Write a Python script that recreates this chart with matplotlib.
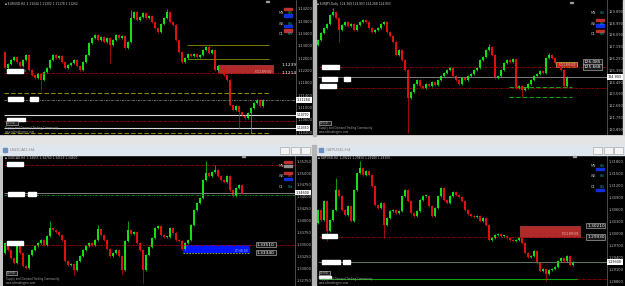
import numpy as np
import matplotlib.pyplot as plt
from matplotlib.patches import Rectangle
from matplotlib.transforms import blended_transform_factory

W, H = 625, 286

# ---------------- data ----------------
# EURUSD,H4 (top left)
tl_open0 = 1.1282
tl_close = [1.1230, 1.1243, 1.1256, 1.1265, 1.1249, 1.1236, 1.1256, 1.1272, 1.1223, 1.1207,
            1.1197, 1.1210, 1.1191, 1.1217, 1.1230, 1.1256, 1.1272, 1.1262, 1.1269, 1.1249,
            1.1230, 1.1240, 1.1246, 1.1256, 1.1236, 1.1223, 1.1249, 1.1272, 1.1311, 1.1327,
            1.1337, 1.1321, 1.1331, 1.1314, 1.1327, 1.1305, 1.1321, 1.1337, 1.1327, 1.1334,
            1.1295, 1.1314, 1.1392, 1.1412, 1.1386, 1.1396, 1.1409, 1.1392, 1.1399, 1.1379,
            1.1360, 1.1347, 1.1373, 1.1392, 1.1412, 1.1379, 1.1370, 1.1321, 1.1282, 1.1249,
            1.1262, 1.1275, 1.1269, 1.1275, 1.1265, 1.1272, 1.1288, 1.1298, 1.1279, 1.1288,
            1.1223, 1.1236, 1.1230, 1.1207, 1.1191, 1.1110, 1.1093, 1.1106, 1.1087, 1.1077,
            1.1067, 1.1083, 1.1100, 1.1116, 1.1126, 1.1106, 1.1126]
tl_wicks = {12: (None, 1.1158), 35: (None, 1.1246), 42: (1.1418, None), 54: (1.1421, None),
            78: (None, 1.1035), 82: (None, 1.1019)}
tl_ticks = [1.1420, 1.1380, 1.1340, 1.1300, 1.1260, 1.1220, 1.1180, 1.1140, 1.1100, 1.1060, 1.1020]
tl_zone = (1.1214, 1.1239)
tl_olive_solid = [1.1305, 1.1259]
tl_olive_dash = [1.1149, 1.1019]
tl_white = [1.1077, 1.1035]
tl_red = [1.1214, 1.1058]
tl_price = 1.1126

# EURJPY,Daily (top right)
tr_open0 = 127.358
tr_close = [127.740, 128.274, 128.655, 128.961, 129.647, 129.876, 129.418, 128.503, 128.884, 129.113,
            128.808, 128.961, 128.503, 128.884, 129.113, 129.266, 129.113, 128.655, 128.350, 128.503,
            128.655, 128.961, 129.113, 128.350, 128.045, 127.587, 126.595, 126.977, 126.214, 125.451,
            123.314, 123.772, 124.383, 124.688, 124.230, 124.077, 124.383, 124.230, 124.535, 124.306,
            124.688, 124.993, 125.222, 125.451, 125.603, 124.993, 124.688, 124.383, 124.840, 124.688,
            124.993, 125.146, 125.451, 125.603, 126.214, 126.443, 126.977, 127.206, 126.595, 124.840,
            124.993, 125.451, 125.985, 126.214, 126.061, 126.290, 124.077, 124.230, 123.925, 124.077,
            124.383, 124.688, 124.993, 125.146, 125.374, 125.222, 126.366, 126.595, 126.366, 125.985,
            125.756, 125.451, 124.230, 124.903]
tr_wicks = {5: (130.18, None), 7: (None, 127.587), 30: (None, 120.644), 57: (127.43, None),
            68: (None, 123.39), 77: (126.75, None)}
tr_ticks = [129.890, 128.990, 128.090, 127.190, 126.290, 125.390, 124.490, 123.590, 122.690, 121.790, 120.890]
tr_zone = (125.668, 126.085)
tr_red = [125.668, 124.077]
tr_green_dash = [124.15, 123.39]
tr_price = 124.903

# USDCAD,H4 (bottom left)
bl_open0 = 1.33332
bl_close = [1.33542, 1.33395, 1.33227, 1.33122, 1.33479, 1.33332, 1.33059, 1.33017, 1.33290, 1.33395,
            1.33479, 1.33542, 1.33605, 1.33500, 1.33689, 1.33857, 1.33815, 1.33773, 1.33710, 1.33605,
            1.33164, 1.33080, 1.33101, 1.32975, 1.33164, 1.33269, 1.33395, 1.33479, 1.33542, 1.33500,
            1.33605, 1.33836, 1.33710, 1.33605, 1.33416, 1.33269, 1.33332, 1.33395, 1.33269, 1.32975,
            1.33584, 1.33815, 1.33731, 1.33773, 1.33542, 1.33395, 1.32975, 1.33290, 1.33458, 1.33647,
            1.33857, 1.33899, 1.33710, 1.33668, 1.33668, 1.33857, 1.33752, 1.33605, 1.33584, 1.33416,
            1.33542, 1.33605, 1.33920, 1.34235, 1.34382, 1.34487, 1.34865, 1.35012, 1.34949, 1.35033,
            1.35075, 1.34949, 1.34865, 1.34823, 1.34949, 1.34655, 1.34529, 1.34697, 1.34760, 1.34600]
bl_wicks = {15: (1.34004, None), 23: (None, 1.32870), 31: (1.33920, None), 39: (None, 1.32891),
            41: (1.34004, None), 46: (None, 1.32702), 67: (1.35264, None), 70: (1.35180, None)}
bl_ticks = [1.35250, 1.35000, 1.34750, 1.34500, 1.34250, 1.34000, 1.33750, 1.33500, 1.33250, 1.33000, 1.32750]
bl_zone = (1.33340, 1.33510)
bl_red = [1.35180, 1.33510]
bl_green = 1.34550
bl_price = 1.34600

# GBPUSD,H4 (bottom right)
br_open0 = 1.30275
br_close = [1.3060, 1.3035, 1.30825, 1.30075, 1.3035, 1.3060, 1.3110, 1.3095, 1.3060, 1.30475,
            1.3070, 1.30325, 1.3110, 1.31525, 1.3165, 1.31475, 1.31575, 1.31475, 1.3120, 1.30725,
            1.3065, 1.30775, 1.30225, 1.3040, 1.30575, 1.3060, 1.30525, 1.30575, 1.3095, 1.3110,
            1.30825, 1.30525, 1.3045, 1.30575, 1.3085, 1.3095, 1.3095, 1.3070, 1.3045, 1.3065,
            1.3095, 1.3115, 1.3085, 1.30775, 1.3095, 1.3105, 1.30975, 1.30925, 1.30825, 1.3060,
            1.3050, 1.3045, 1.30425, 1.3045, 1.30325, 1.3040, 1.30225, 1.2985, 1.2990, 1.29975,
            1.3000, 1.2995, 1.2995, 1.2990, 1.2985, 1.29825, 1.2985, 1.2990, 1.29775, 1.29525,
            1.29425, 1.2945, 1.29575, 1.29275, 1.29075, 1.29125, 1.2900, 1.2910, 1.29125, 1.29175,
            1.29325, 1.2940, 1.29325, 1.2945, 1.29225, 1.2930]
br_wicks = {3: (None, 1.29825), 6: (1.3140, None), 14: (1.31825, None), 22: (None, 1.2990),
            76: (None, 1.28825)}
br_ticks = [1.31800, 1.31500, 1.31200, 1.30900, 1.30600, 1.30300, 1.30000, 1.29700, 1.29400, 1.29100, 1.28800]
br_zone = (1.29930, 1.30210)
br_green = 1.28875
br_price = 1.2930

# ---------------- styles ----------------
BULL, BEAR = '#12e012', '#e01010'
AXTXT = '#b8b8b8'
DASHDOT = (0, (3, 1.2, 1, 1.2))

fig = plt.figure(figsize=(W / 100, H / 100), dpi=100, facecolor='#c4c4c4')


def frect(x, y, w, h, **kw):
    fig.patches.append(Rectangle((x / W, 1 - (y + h) / H), w / W, h / H,
                                 transform=fig.transFigure, **kw))


def ftext(x, y, s, **kw):
    fig.text(x / W, 1 - y / H, s, va='center', **kw)


def panel(l, t, r, b, x0, ylim):
    ax = fig.add_axes([l / W, 1 - b / H, (r - l) / W, (b - t) / H], facecolor='black')
    ax.set_xlim((l - x0) / 3, (r - x0) / 3)
    ax.set_ylim(*ylim)
    ax.set_xticks([])
    ax.set_yticks([])
    for s in ax.spines.values():
        s.set_visible(False)
    return ax, (lambda px: (px - x0) / 3)


def candles(ax, open0, closes, wicks, pad):
    opens = [open0] + closes[:-1]
    for i, (o, c) in enumerate(zip(opens, closes)):
        col = BULL if c >= o else BEAR
        hi, lo = max(o, c) + pad, min(o, c) - pad
        if i in wicks:
            wh, wl = wicks[i]
            hi = wh if wh else hi
            lo = wl if wl else lo
        ax.vlines(i, lo, hi, color=col, lw=0.5)
        ax.bar(i, max(abs(c - o), pad * 0.8), bottom=min(o, c), width=0.62, color=col, lw=0)


def price_axis(ax, ix, sep, ticks, fmt, price):
    ax.axvline(ix(sep), color='#6a6a6a', lw=0.5)
    for t in ticks:
        ax.text(ix(sep + 2), t, fmt % t, color=AXTXT, fontsize=2.6, va='center')
    ax.text(ix(sep + 1), price, fmt % price, color='black', fontsize=2.4, va='center',
            bbox=dict(boxstyle='square,pad=0.25', fc='white', ec='none'))


def level_tags(ax, ix, px, levels, fmt, boxed):
    for p in levels:
        kw = dict(boxstyle='square,pad=0.2', fc='#1a1a1a', ec='#c8c8c8', lw=0.4) if boxed else None
        ax.text(ix(px), p, fmt % p, color='white', fontsize=3.1, va='center', bbox=kw)


def widget(x, rows):
    # rows: (label, y, [(dy, colour) boxes], pct colour)
    for lab, y, boxes, pc in rows:
        ftext(x, y, lab, color='#c0c0c0', fontsize=2.3)
        for dy, col in boxes:
            frect(x + 5, y + dy, 8, 2.2, color=col)
        if pc:
            ftext(x + 9, y, '0%', color=pc, fontsize=2.3)


def footer(x, y):
    ftext(x, y, 'Supply and Demand Trading Community', color='#a0a0a0', fontsize=1.9)
    ftext(x, y + 4, 'www.sdtradingpro.com', color='#a0a0a0', fontsize=1.9)


# window chrome for the lower two charts
frect(0, 136, W, 9, color='#e4e4e4')
for l, r, name in [(0, 312, 'USDCAD,H4'), (316, 625, 'GBPUSD,H4')]:
    frect(l, 145, r - l, 10, color='#dfe6ee')
    frect(l + 3, 147.5, 4, 4, color='#6a8fc0')
    ftext(l + 10, 150, name, color='#8c8c8c', fontsize=3.2)
    for bx in (r - 32, r - 21, r - 11):
        frect(bx, 146.5, 9, 7, fc='#f4f4f4', ec='#9a9a9a', lw=0.4)
frect(313, 0, 3, 136, color='#b4b4b4')
frect(312, 145, 4, 141, color='#b4b4b4')

# ---------------- EURUSD,H4 ----------------
ax, ix = panel(0, 0, 313, 135, 5, (1.1012, 1.14508))
for p in tl_olive_solid:
    ax.hlines(p, ix(187), ix(269), color='#8a8a00', lw=0.6)
for p in tl_olive_dash:
    ax.hlines(p, ix(4), ix(269), color='#8a8a00', lw=0.8, linestyles=(0, (4, 2)))
for p in tl_white:
    ax.hlines(p, ix(4), ix(296), color='#d8d8d8', lw=0.8)
for p in tl_red:
    ax.hlines(p, ix(4), ix(296), color='#b00000', lw=0.6, linestyles=DASHDOT)
ax.hlines(tl_price, ix(4), ix(296), color='#708070', lw=0.6, linestyles=DASHDOT)
ax.add_patch(Rectangle((ix(218), tl_zone[0]), ix(273) - ix(218), tl_zone[1] - tl_zone[0],
                       fc='#b02a2a', ec='#d05050', lw=0.4))
ax.text(ix(271), tl_zone[0] + 0.0004, 'SD(1.5M) 0/0', color='#f0c8c8', fontsize=1.8, ha='right', va='center')
candles(ax, tl_open0, tl_close, tl_wicks, 0.000325)
price_axis(ax, ix, 296, tl_ticks, '%.5f', tl_price)
for p in tl_white:
    ax.text(ix(297), p, '%.5f' % p, color='black', fontsize=2.2, va='center',
            bbox=dict(boxstyle='square,pad=0.2', fc='white', ec='none'))
level_tags(ax, ix, 281, tl_zone[::-1], '%.4f', False)
ftext(5, 4, '\u25aa EURUSD,H4  1.11044 1.11302 1.11178 1.11262', color='#d0d0d0', fontsize=2.1)
frect(266, 1, 3, 1.2, color='#9a9a9a')
widget(279, [('MN', 13, [(-5, '#c03030'), (1.5, '#1030e0')], '#20c020'),
             ('WK', 24, [(1, '#1030e0')], '#20b0b0'),
             ('D1', 34, [(-4.5, '#c03030')], '#20b0b0')])
frect(7, 69, 16, 3.5, color='white')
ftext(24, 71, '5x', color='#a0a0a0', fontsize=1.9)
frect(8, 97, 15, 4, color='white')
frect(30, 96.5, 8, 4.5, color='white')
frect(7, 117.5, 18, 3.5, color='white')
frect(6, 121, 12, 4, fc='#202020', ec='#d0d0d0', lw=0.4)
ftext(7, 123, 'D1(H4)', color='#d0d0d0', fontsize=1.8)
footer(5, 128)

# ---------------- EURJPY,Daily ----------------
ax, ix = panel(316, 0, 625, 135, 318, (120.491, 130.792))
for p in tr_red:
    ax.hlines(p, ix(319), ix(606), color='#b00000', lw=0.6, linestyles=DASHDOT)
for p in tr_green_dash:
    ax.hlines(p, ix(509), ix(572), color='#10a010', lw=0.8, linestyles=(0, (4, 2)))
ax.hlines(tr_price, ix(318), ix(607), color='#909090', lw=0.6)
ax.add_patch(Rectangle((ix(556), tr_zone[0]), ix(577) - ix(556), tr_zone[1] - tr_zone[0],
                       fc='#b02a2a', ec='#c8c040', lw=0.5))
ax.text(ix(575), tr_zone[0] + 0.17, 'SD(1.5M) 0/0', color='#f0e0a0', fontsize=1.8, ha='right', va='center')
candles(ax, tr_open0, tr_close, tr_wicks, 0.0763)
price_axis(ax, ix, 607, tr_ticks, '%.3f', tr_price)
level_tags(ax, ix, 584, tr_zone[::-1], '%.3f', True)
ftext(317, 4, '\u25aa EURJPY,Daily  124.369 124.903 124.268 124.903', color='#d0d0d0', fontsize=2.1)
frect(570, 2, 3, 1.2, color='#9a9a9a')
widget(591, [('MN', 13, [], '#20b0b0'),
             ('WK', 24, [(-5, '#c03030'), (0.5, '#1030e0')], '#20b0b0'),
             ('D1', 34, [(-4, '#c03030')], '#20b0b0')])
frect(322, 65, 17, 3.5, color='white')
frect(322, 77, 15, 3.5, color='white')
frect(344, 77, 6, 3.5, color='white')
frect(320, 84, 16, 4, color='white')
frect(319, 121, 12, 4, fc='#202020', ec='#d0d0d0', lw=0.4)
ftext(320, 123, 'D1(D1)', color='#d0d0d0', fontsize=1.8)
footer(319, 128)
frect(623, 0, 2, 135, color='#d8d8d8')

# ---------------- USDCAD,H4 ----------------
ax, ix = panel(3, 155, 312, 286, 5, (1.32639, 1.3539))
for p in bl_red:
    ax.hlines(p, ix(4), ix(296), color='#b00000', lw=0.6, linestyles=DASHDOT)
ax.hlines(bl_green, ix(4), ix(296), color='#109010', lw=0.6, linestyles=DASHDOT)
ax.hlines(bl_price, ix(4), ix(296), color='#909090', lw=0.6)
ax.add_patch(Rectangle((ix(183), bl_zone[0]), ix(250) - ix(183), bl_zone[1] - bl_zone[0],
                       fc='#0014ff', ec='none'))
ax.hlines(bl_zone[0], ix(183), ix(250), color='#a0c040', lw=0.6, linestyles=(0, (2, 1.5)))
ax.text(ix(248), bl_zone[0] + 0.0004, 'LT(H4) 0/0', color='#c8d0ff', fontsize=1.8, ha='right', va='center')
candles(ax, bl_open0, bl_close, bl_wicks, 0.00021)
price_axis(ax, ix, 295, bl_ticks, '%.5f', bl_price)
level_tags(ax, ix, 257, bl_zone[::-1], '%.5f', True)
ftext(5, 158, '\u25aa USDCAD,H4  1.34655 1.34760 1.34529 1.34600', color='#d0d0d0', fontsize=2.1)
frect(242, 155.5, 3, 1.2, color='#9a9a9a')
widget(279, [('MN', 166, [(-5, '#c03030'), (-1, '#909090')], None),
             ('WK', 176, [(-4, '#c03030'), (2, '#1030e0')], '#e04040'),
             ('D1', 187, [], '#20b0b0')])
frect(7, 162, 16, 4, color='white')
frect(8, 192, 16, 4, color='white')
frect(28, 191.5, 8, 4.5, color='white')
frect(7, 241, 16, 4, color='white')
frect(6, 271, 11, 4, fc='#202020', ec='#d0d0d0', lw=0.4)
ftext(7, 273, 'D1(H4)', color='#d0d0d0', fontsize=1.8)
footer(6, 279)

# ---------------- GBPUSD,H4 ----------------
ax, ix = panel(316, 155, 625, 286, 318, (1.2870, 1.31975))
ax.add_patch(Rectangle((ix(520), br_zone[0]), ix(580) - ix(520), br_zone[1] - br_zone[0],
                       fc='#b02a2a', ec='#c85050', lw=0.4))
ax.text(ix(578), br_zone[0] + 0.0008, 'SD(1.5M) 0/0', color='#f0c8c8', fontsize=1.8, ha='right', va='center')
ax.hlines(br_zone[0], ix(319), ix(606), color='#b00000', lw=0.6, linestyles=DASHDOT)
ax.hlines(br_price, ix(318), ix(607), color='#5a7a5a', lw=0.7)
ax.hlines(br_green, ix(319), ix(577), color='#10a010', lw=0.8)
ax.hlines(br_green, ix(577), ix(606), color='#b00000', lw=0.6, linestyles=DASHDOT)
candles(ax, br_open0, br_close, br_wicks, 0.00025)
price_axis(ax, ix, 607, br_ticks, '%.5f', br_price)
level_tags(ax, ix, 587, br_zone[::-1], '%.5f', True)
ftext(318, 158, '\u25aa GBPUSD,H4  1.29225 1.29450 1.29180 1.29300', color='#d0d0d0', fontsize=2.1)
frect(573, 155.5, 3, 1.2, color='#9a9a9a')
widget(591, [('MN', 166, [(2, '#1030e0')], '#20b0b0'),
             ('WK', 176, [], '#20b0b0'),
             ('D1', 187, [(2, '#1030e0')], '#20b0b0')])
frect(322, 234, 15, 4, color='white')
frect(322, 260, 18, 3.5, color='white')
frect(343, 259.5, 7, 4, color='white')
frect(319, 271, 11, 4, fc='#202020', ec='#d0d0d0', lw=0.4)
ftext(320, 273, 'D1(H4)', color='#d0d0d0', fontsize=1.8)
frect(319, 276, 12, 2, color='white')
footer(319, 279)

fig.savefig('out.png', dpi=100, facecolor=fig.get_facecolor())
